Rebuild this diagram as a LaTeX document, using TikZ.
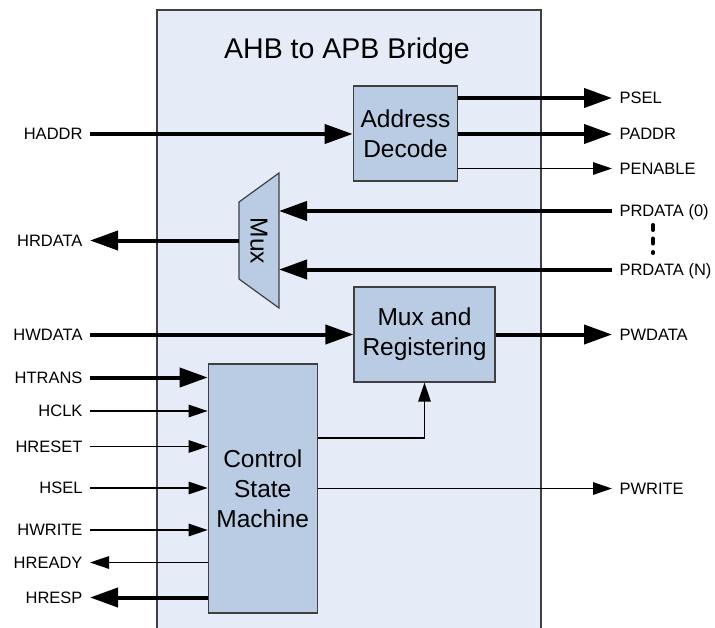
\documentclass[tikz,border=0pt]{standalone}
\usepackage{fontspec}
\setmainfont{Liberation Sans}
\usetikzlibrary{arrows.meta}
\definecolor{bgblue}{RGB}{229,236,247}
\definecolor{blkblue}{RGB}{185,204,228}
\definecolor{edgegray}{RGB}{64,64,64}
\begin{document}
\begin{tikzpicture}[x=1pt,y=-1pt,
  blk/.style={draw=edgegray, line width=1.2pt, fill=blkblue, align=center,
    font=\fontsize{24.5}{30}\selectfont, inner sep=0pt},
  shp/.style={draw=edgegray, line width=1.2pt, fill=blkblue},
  lbl/.style={font=\fontsize{16.5}{18}\selectfont, inner sep=0pt,
    text height=11.8pt, text depth=0pt, outer xsep=7.5pt},
  thk/.style={line width=4pt, -{Triangle[length=28pt,width=19pt]}},
  thn/.style={line width=1.3pt, -{Triangle[length=19pt,width=12.5pt]}},
]
\clip (0,0) rectangle (715,627);
% outer bridge box
\filldraw[fill=bgblue, draw=edgegray, line width=1.2pt]
  (157,700) -- (157,10) -- (541,10) -- (541,700);
\node[anchor=base, font=\fontsize{28.5}{32}\selectfont, inner sep=0pt] (title) at (347,58.3) {AHB to APB Bridge};

% blocks
\node[blk, minimum width=104.5pt, minimum height=95pt] (ad) at (405.5,133.5) {Address\\Decode};
\node[blk, minimum width=141pt, minimum height=95pt] (mr) at (424.5,334.5) {Mux and\\Registering};
\node[blk, minimum width=109pt, minimum height=249pt] (csm) at (262.75,488.5) {Control\\State\\Machine};

% mux trapezoid
\filldraw[shp] (239,202) -- (279,173) -- (279,308) -- (239,279) -- cycle;
\node[rotate=-90, font=\fontsize{24.5}{30}\selectfont, inner sep=0pt] (mux) at (259,241) {Mux};
\coordinate (muxL) at (239,240.5);
\coordinate (muxR) at (279,240.5);

% left labels
\node[lbl, anchor=east] (haddr) at (90,134) {HADDR};
\node[lbl, anchor=east] (hrdata) at (90,240.5) {HRDATA};
\node[lbl, anchor=east] (hwdata) at (90,334.5) {HWDATA};
\node[lbl, anchor=east] (htrans) at (90,377.5) {HTRANS};
\node[lbl, anchor=east] (hclk) at (90,411) {HCLK};
\node[lbl, anchor=east] (hreset) at (90,446.5) {HRESET};
\node[lbl, anchor=east] (hsel) at (90,488) {HSEL};
\node[lbl, anchor=east] (hwrite) at (90,530) {HWRITE};
\node[lbl, anchor=east] (hready) at (90,562.5) {HREADY};
\node[lbl, anchor=east] (hresp) at (90,597.5) {HRESP};

% right labels
\node[lbl, anchor=west] (psel) at (612,98) {PSEL};
\node[lbl, anchor=west] (paddr) at (612,134) {PADDR};
\node[lbl, anchor=west] (penable) at (612,168.5) {PENABLE};
\node[lbl, anchor=west] (prd0) at (612,211) {PRDATA (0)};
\node[lbl, anchor=west] (prdn) at (612,269.5) {PRDATA (N)};
\node[lbl, anchor=west] (pwdata) at (612,334.5) {PWDATA};
\node[lbl, anchor=west] (pwrite) at (612,488.5) {PWRITE};

% vertical dots between PRDATA labels
\coordinate (dtop) at (653,225);
\coordinate (dbot) at (653,253);
\draw[line width=4pt, line cap=round, dash pattern=on 5pt off 8.5pt] (dtop) -- (dbot);

% address decode connections
\draw[thk] (haddr.east) -- (haddr.east -| ad.west);
\draw[thk] (ad.east |- psel.west) -- (psel.west);
\draw[thk] (ad.east |- paddr.west) -- (paddr.west);
\draw[thn] (ad.east |- penable.west) -- (penable.west);

% mux connections
\draw[thk] (prd0.west) -- (prd0.west -| muxR);
\draw[thk] (prdn.west) -- (prdn.west -| muxR);
\draw[thk] (muxL) -- (hrdata.east);

% mux and registering
\draw[thk] (hwdata.east) -- (hwdata.east -| mr.west);
\draw[thk] (mr.east |- pwdata.west) -- (pwdata.west);

% control state machine
\draw[thk] (htrans.east) -- (htrans.east -| csm.west);
\draw[thn] (hclk.east) -- (hclk.east -| csm.west);
\draw[thn] (hreset.east) -- (hreset.east -| csm.west);
\draw[thn] (hsel.east) -- (hsel.east -| csm.west);
\draw[thn] (hwrite.east) -- (hwrite.east -| csm.west);
\draw[thn] (hready.east -| csm.west) -- (hready.east);
\draw[thk] (hresp.east -| csm.west) -- (hresp.east);
\draw[thn] ([yshift=50.5pt]csm.east) -| (mr.south);
\draw[thn] (csm.east |- pwrite.west) -- (pwrite.west);
\end{tikzpicture}
\end{document}
